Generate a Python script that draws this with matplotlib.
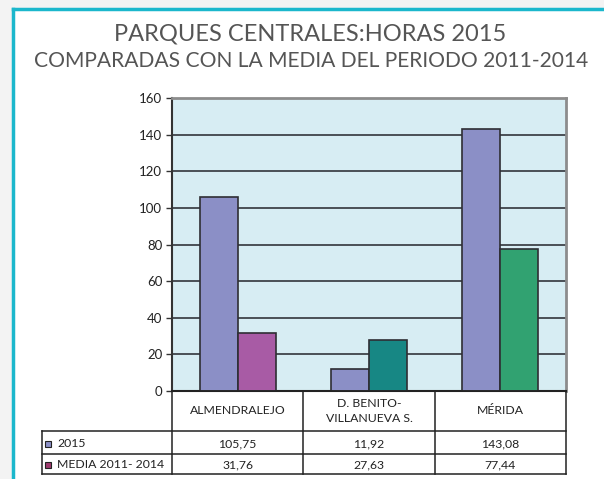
import matplotlib
matplotlib.use("Agg")
import matplotlib.pyplot as plt
from matplotlib.patches import Rectangle
from matplotlib.lines import Line2D

categories = ["ALMENDRALEJO", "D. BENITO-\nVILLANUEVA S.", "MÉRIDA"]
values_2015 = [105.75, 11.92, 143.08]
values_media = [31.76, 27.63, 77.44]
labels_2015 = ["105,75", "11,92", "143,08"]
labels_media = ["31,76", "27,63", "77,44"]
series_names = ["2015", "MEDIA 2011- 2014"]
yticks = [0, 20, 40, 60, 80, 100, 120, 140, 160]
title1 = "PARQUES CENTRALES:HORAS 2015"
title2 = "COMPARADAS CON LA MEDIA DEL PERIODO 2011-2014"

c2015 = "#8b8fc6"
media_colors = ["#a85ba5", "#178784", "#31a271"]
legend_media_color = "#9e3a6e"

W, H = 604, 479
fig = plt.figure(figsize=(W / 100, H / 100), dpi=100, facecolor="#f3f3f3")

def fx(px):
    return px / W

def fy(py):
    return 1 - py / H

# white panel with teal border
panel = fig.add_axes([0, 0, 1, 1], zorder=0)
panel.set_xlim(0, W)
panel.set_ylim(H, 0)
panel.axis("off")
panel.add_patch(Rectangle((13, 9), W, H, facecolor="white", edgecolor="none"))
panel.add_line(Line2D([13, 13], [9, H], color="#1bb7cc", lw=2.5))
panel.add_line(Line2D([13, W], [9, 9], color="#1bb7cc", lw=2.5))

fig.text(fx(310), fy(40), title1, ha="center", va="baseline", fontsize=17,
         family="Lato", fontweight="normal", color="#555555")
fig.text(fx(311), fy(67), title2, ha="center", va="baseline", fontsize=15.1,
         family="Lato", fontweight="normal", color="#555555")

# plot area
L, R, T, B = 172, 566, 98, 391
ax = fig.add_axes([fx(L), fy(B), fx(R - L), (B - T) / H], zorder=2)
ax.set_facecolor("#d7edf3")
ax.set_xlim(-0.5, len(categories) - 0.5)
ax.set_ylim(0, 160)
ax.set_yticks(yticks)
ax.set_xticks([])
ax.yaxis.grid(True, color="#4a4f55", lw=1.4)
ax.set_axisbelow(True)
for s in ["top", "right"]:
    ax.spines[s].set_color("#8c8c8c")
    ax.spines[s].set_linewidth(2)
ax.spines["left"].set_color("#333333")
ax.spines["left"].set_linewidth(1.5)
ax.spines["bottom"].set_color("#222222")
ax.spines["bottom"].set_linewidth(1.5)
ax.tick_params(axis="y", length=4, width=1, color="#333333", labelsize=9.5,
               labelcolor="#222222", pad=3)
for lab in ax.get_yticklabels():
    lab.set_family("Lato")

bw = 0.29
x = list(range(len(categories)))
ax.bar([i - bw / 2 for i in x], values_2015, width=bw, color=c2015,
       edgecolor="#2e2e33", lw=1.2, zorder=3)
ax.bar([i + bw / 2 for i in x], values_media, width=bw, color=media_colors,
       edgecolor="#2e2e33", lw=1.2, zorder=3)

# data table
tx0, r1, r2, r3, r4 = 42, 391, 431, 454, 474
tab = fig.add_axes([fx(tx0), fy(r4), fx(R - tx0), (r4 - r1) / H], zorder=3)
tab.set_xlim(tx0, R)
tab.set_ylim(r4, r1)
tab.axis("off")
colw = (R - L) / len(categories)
edges = [L + k * colw for k in range(len(categories) + 1)]
lc = "#222222"
lw = 1.1
tab.add_line(Line2D([L, R], [r1, r1], color=lc, lw=lw, clip_on=False))
for yy in (r2, r3, r4):
    tab.add_line(Line2D([tx0, R], [yy, yy], color=lc, lw=lw, clip_on=False))
for xx in edges:
    tab.add_line(Line2D([xx, xx], [r1, r4], color=lc, lw=lw, clip_on=False))
tab.add_line(Line2D([tx0, tx0], [r2, r4], color=lc, lw=lw, clip_on=False))

for i, cat in enumerate(categories):
    cx = (edges[i] + edges[i + 1]) / 2
    tab.text(cx, (r1 + r2) / 2, cat, ha="center", va="center", fontsize=8.8,
             family="Lato", color="#222222", linespacing=1.5)
    tab.text(cx, (r2 + r3) / 2 + 1, labels_2015[i], ha="center", va="center",
             fontsize=8.8, family="Lato", color="#222222")
    tab.text(cx, (r3 + r4) / 2 + 1, labels_media[i], ha="center", va="center",
             fontsize=8.8, family="Lato", color="#222222")

for (yy0, yy1), name, col in zip([(r2, r3), (r3, r4)], series_names,
                                 [c2015, legend_media_color]):
    ym = (yy0 + yy1) / 2 + 1
    tab.add_patch(Rectangle((45, ym - 3), 6, 6, facecolor=col,
                            edgecolor="#222222", lw=0.8))
    tab.text(57, ym, name, ha="left", va="center", fontsize=8.8,
             family="Lato", color="#222222")

fig.savefig("out.png", dpi=100, facecolor=fig.get_facecolor())
